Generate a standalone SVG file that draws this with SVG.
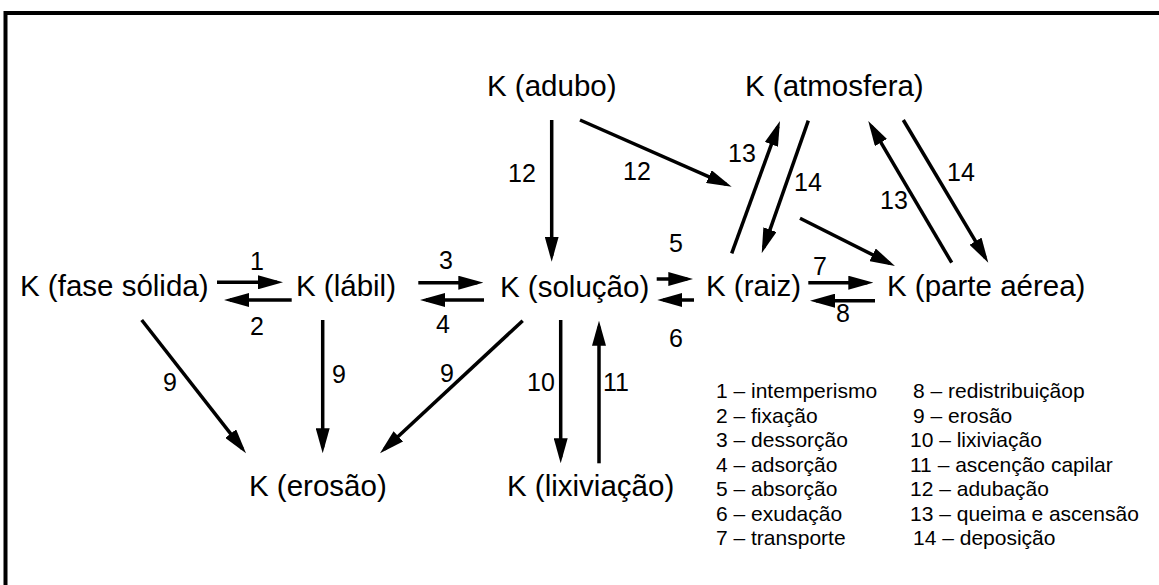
<svg xmlns="http://www.w3.org/2000/svg" width="1159" height="585" viewBox="0 0 1159 585">
<style>
.node{font-family:"Liberation Sans",Arial,sans-serif;font-size:29.5px;fill:#000}
.lbl{font-family:"Liberation Sans",Arial,sans-serif;font-size:25px;fill:#000;text-anchor:middle}
.leg{font-family:"Liberation Sans",Arial,sans-serif;font-size:21px;fill:#000}
.arr{stroke:#000;stroke-width:3.5;fill:none;marker-end:url(#ah)}
</style>
<defs>
<marker id="ah" markerUnits="userSpaceOnUse" markerWidth="25" markerHeight="14" viewBox="0 0 25 14" refX="19" refY="7" orient="auto">
<path d="M0,0 L25,7 L0,14 z" fill="#000"/>
</marker>
</defs>
<rect x="0" y="0" width="1159" height="585" fill="#fff"/>
<path d="M5.5,585 V13 H1159" fill="none" stroke="#000" stroke-width="4"/>

<g id="n-fase-solida"><text class="node" x="20" y="296">K (fase sólida)</text></g>
<g id="n-labil"><text class="node" x="296" y="296">K (lábil)</text></g>
<g id="n-solucao"><text class="node" x="500" y="297">K (solução)</text></g>
<g id="n-raiz"><text class="node" x="706" y="296">K (raiz)</text></g>
<g id="n-parte-aerea"><text class="node" x="887" y="296">K (parte aérea)</text></g>
<g id="n-adubo"><text class="node" x="487" y="96">K (adubo)</text></g>
<g id="n-atmosfera"><text class="node" x="745" y="96">K (atmosfera)</text></g>
<g id="n-erosao"><text class="node" x="249" y="496">K (erosão)</text></g>
<g id="n-lixiviacao"><text class="node" x="507" y="496">K (lixiviação)</text></g>

<g id="connectors">
<line class="arr" x1="217" y1="282.3" x2="277" y2="282.3"/>
<line class="arr" x1="291.7" y1="300" x2="230" y2="300"/>
<line class="arr" x1="418.3" y1="282.7" x2="477.3" y2="282.7"/>
<line class="arr" x1="484" y1="300" x2="426" y2="300"/>
<line class="arr" x1="656.7" y1="279" x2="687.3" y2="279"/>
<line class="arr" x1="694" y1="300" x2="663.3" y2="300"/>
<line class="arr" x1="808.3" y1="282.7" x2="867.3" y2="282.7"/>
<line class="arr" x1="875" y1="300.7" x2="816" y2="300.7"/>
<line class="arr" x1="551.7" y1="120" x2="551.7" y2="255.7"/>
<line class="arr" x1="580" y1="120" x2="726.2" y2="184.3"/>
<line class="arr" x1="731.7" y1="253.3" x2="777.9" y2="126.6"/>
<line class="arr" x1="808.3" y1="120.7" x2="763.7" y2="247.6"/>
<line class="arr" x1="800" y1="218.3" x2="889.6" y2="263.3"/>
<line class="arr" x1="951.7" y1="262.7" x2="871.3" y2="126.2"/>
<line class="arr" x1="903.3" y1="120" x2="985.2" y2="257.5"/>
<line class="arr" x1="141.7" y1="320" x2="242.3" y2="448.6"/>
<line class="arr" x1="322.7" y1="320" x2="322.7" y2="447.3"/>
<line class="arr" x1="522.7" y1="320.7" x2="384.4" y2="449.2"/>
<line class="arr" x1="560.7" y1="320" x2="560.7" y2="457.3"/>
<line class="arr" x1="599" y1="463.3" x2="599" y2="326.7"/>
</g>

<g id="labels">
<text class="lbl" x="257" y="270">1</text>
<text class="lbl" x="257" y="335">2</text>
<text class="lbl" x="446" y="269">3</text>
<text class="lbl" x="443" y="333">4</text>
<text class="lbl" x="676" y="252">5</text>
<text class="lbl" x="676" y="347">6</text>
<text class="lbl" x="820" y="275">7</text>
<text class="lbl" x="843" y="322">8</text>
<text class="lbl" x="522" y="182">12</text>
<text class="lbl" x="637" y="180">12</text>
<text class="lbl" x="742" y="162">13</text>
<text class="lbl" x="808" y="191">14</text>
<text class="lbl" x="894" y="209">13</text>
<text class="lbl" x="961" y="181">14</text>
<text class="lbl" x="170" y="391">9</text>
<text class="lbl" x="339" y="383">9</text>
<text class="lbl" x="447" y="382">9</text>
<text class="lbl" x="541" y="391">10</text>
<text class="lbl" x="616" y="391">11</text>
</g>

<g id="legend">
<text class="leg" x="716" y="398">1 – intemperismo</text>
<text class="leg" x="716" y="422.5">2 – fixação</text>
<text class="leg" x="716" y="447">3 – dessorção</text>
<text class="leg" x="716" y="471.5">4 – adsorção</text>
<text class="leg" x="716" y="496">5 – absorção</text>
<text class="leg" x="716" y="520.5">6 – exudação</text>
<text class="leg" x="716" y="545">7 – transporte</text>
<text class="leg" x="913" y="398">8 – redistribuiçãop</text>
<text class="leg" x="913" y="422.5">9 – erosão</text>
<text class="leg" x="910" y="447">10 – lixiviação</text>
<text class="leg" x="910" y="471.5">11 – ascenção capilar</text>
<text class="leg" x="910" y="496">12 – adubação</text>
<text class="leg" x="910" y="520.5">13 – queima e ascensão</text>
<text class="leg" x="913" y="545">14 – deposição</text>
</g>
</svg>
